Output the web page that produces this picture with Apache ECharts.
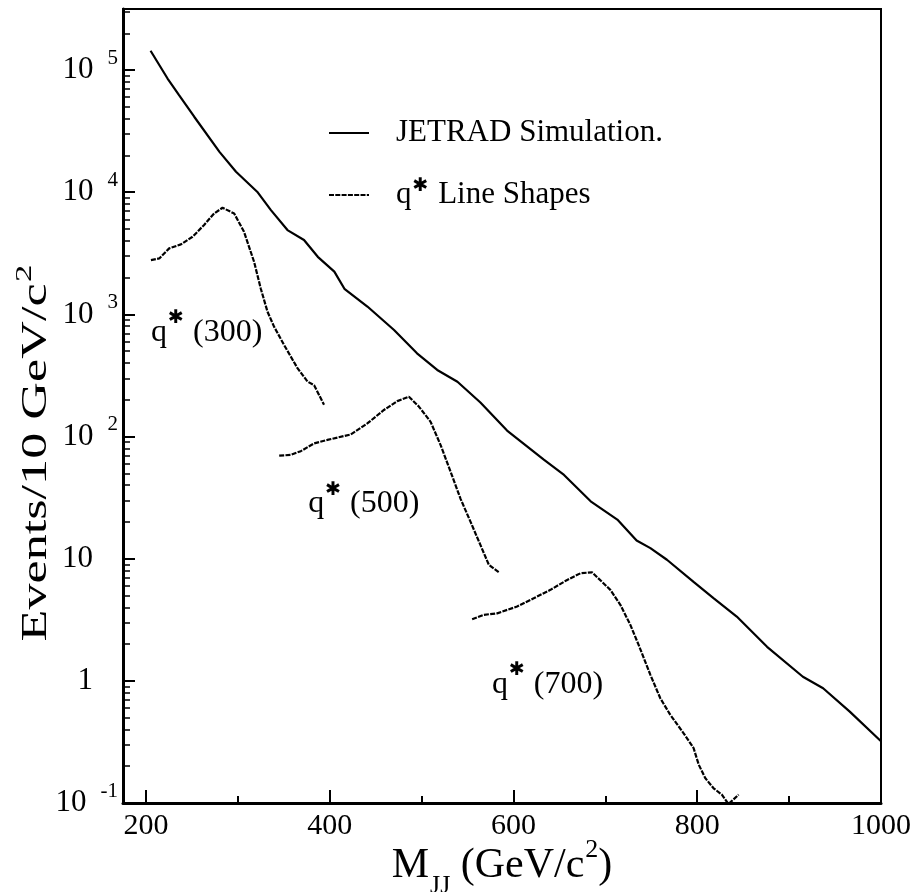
<!DOCTYPE html>
<html>
<head>
<meta charset="utf-8">
<script src="https://cdn.jsdelivr.net/npm/echarts@6/dist/echarts.min.js"></script>
<style>html,body{margin:0;padding:0;background:#fff}#c{width:918px;height:892px}</style>
</head>
<body>
<div id="c"></div>
<script>
// ---------- data ----------
const jetradX = [205, 223.5, 236, 252.5, 280, 298, 321, 336, 354, 372, 387, 405, 416, 441, 470, 495, 517, 539, 564, 593, 633, 655, 684, 713, 734, 749, 767, 796, 818, 843, 876, 915, 937, 966, 1000];
const jetradY = [144000, 85300, 62400, 41500, 21400, 14700, 10100, 7140, 4900, 4060, 2960, 2240, 1620, 1160, 745, 480, 351, 281, 190, 112, 64.6, 48.5, 29.5, 20.9, 14.1, 12.2, 9.8, 6.46, 4.74, 3.36, 1.9, 1.08, 0.87, 0.56, 0.32];

const q300X = [205.4, 214.5, 225.3, 238, 250.7, 263.3, 274.2, 283.3, 296, 306.7, 317.7, 325, 332.3, 339.4, 350.3, 364.9, 375.8, 383, 393.8];
const q300Y = [2780, 2870, 3470, 3740, 4320, 5400, 6700, 7460, 6700, 4750, 2690, 1620, 1050, 794, 562, 363, 282, 263, 182];

const q500X = [345, 357.6, 368.5, 383, 397.5, 422.8, 440.9, 459, 473.6, 486.2, 497, 509.8, 520.7, 531.5, 542.4, 553.3, 564.1, 573.2, 584];
const q500Y = [69.7, 70.8, 75.9, 87.9, 93.8, 104, 128, 165, 195, 212, 176, 132, 85.1, 51.6, 30.9, 20, 12.9, 8.9, 7.74];

const q700X = [555, 567.7, 582.2, 603.9, 622, 640.2, 658.4, 672.8, 685.5, 705.4, 716.3, 727.2, 736.2, 749, 759.8, 770.7, 785.2, 796, 801.6, 808.7, 817.8, 826.8, 834, 845];
const q700Y = [3.19, 3.47, 3.57, 4.06, 4.74, 5.56, 6.70, 7.59, 7.74, 5.56, 4.19, 2.87, 1.97, 1.12, 0.72, 0.527, 0.372, 0.282, 0.206, 0.16, 0.132, 0.117, 0.098, 0.117];

const seriesNames = ['JETRAD Simulation.', 'q* Line Shapes'];

const xTickValues = [200, 400, 600, 800, 1000];
const xTickLabels = ['200', '400', '600', '800', '1000'];
const xMinorTickValues = [300, 500, 700, 900];

const yTickValues = [0.1, 1, 10, 100, 1000, 10000, 100000];
const yTickBase = ['10', '1', '10', '10', '10', '10', '10'];
const yTickExp = ['-1', '', '', '2', '3', '4', '5'];
const yDecades = [0.1, 1, 10, 100, 1000, 10000, 100000];
const yMinorSteps = [2, 3, 4, 5, 6, 7, 8, 9];

const annotX = [205, 376, 576];
const annotY = [716, 28, 0.94];
const annotText = ['(300)', '(500)', '(700)'];

const xAxisTitle = 'M{sub|JJ} (GeV/c{sup|2})';
const yAxisTitle = 'Events/10 GeV/c{sup|2}';

// ---------- chart ----------
const FONT = 'Liberation Serif';
const X_MIN = 175, X_MAX = 1000, Y_MIN = 0.1, Y_MAX = 316227.766;
const zip = (xs, ys) => xs.map((x, i) => [x, ys[i]]);
const yMinorTickValues = [];
yDecades.forEach(d => yMinorSteps.forEach(s => { const v = d * s; if (v <= Y_MAX) yMinorTickValues.push(v); }));

const chart = echarts.init(document.getElementById('c'), null, {renderer: 'canvas'});

const lineBase = {type: 'line', showSymbol: false, symbol: 'none', smooth: false, clip: true, xAxisIndex: 0, yAxisIndex: 0, emphasis: {disabled: true}};
const dashStyle = {color: '#000', width: 2.2, type: [5, 1.3]};

const option = {
  animation: false,
  backgroundColor: '#fff',
  grid: {left: 123, right: 37, top: 9, bottom: 89, show: true, borderColor: '#000', borderWidth: 2, backgroundColor: 'transparent', containLabel: false, outerBoundsMode: 'none'},
  legend: {
    data: seriesNames, orient: 'vertical', left: 323, top: 110, itemWidth: 40, itemHeight: 14, itemGap: 26,
    selectedMode: false,
    itemStyle: {opacity: 0},
    formatter: n => n === seriesNames[1] ? 'q{s|✱} Line Shapes' : n,
    textStyle: {fontFamily: FONT, fontSize: 31, color: '#000', lineHeight: 36, padding: [0, 0, 0, 22],
      rich: {s: {fontFamily: 'DejaVu Sans', fontSize: 19, lineHeight: 10, verticalAlign: 'top', color: '#000', padding: [0, 2, 0, 1]}}}
  },
  xAxis: [
    {type: 'value', min: X_MIN, max: X_MAX, position: 'bottom',
      axisLine: {show: true, onZero: false, lineStyle: {color: '#000', width: 3}},
      axisTick: {show: true, inside: true, length: 13, customValues: xTickValues, lineStyle: {color: '#000', width: 2}},
      axisLabel: {show: true, customValues: xTickValues, color: '#000', fontFamily: FONT, fontSize: 30, margin: 8,
        formatter: v => { const i = xTickValues.indexOf(v); return i >= 0 ? xTickLabels[i] : ''; }},
      splitLine: {show: false},
      name: xAxisTitle, nameLocation: 'middle', nameGap: 42, nameMoveOverlap: false,
      nameTextStyle: {fontFamily: FONT, fontSize: 42, color: '#000',
        rich: {
          sub: {fontFamily: FONT, fontSize: 26, lineHeight: 26, color: '#000', padding: [40, 0, 0, 1]},
          sup: {fontFamily: FONT, fontSize: 26, lineHeight: 26, color: '#000', padding: [4, 0, 36, 1]}
        }}
    },
    {type: 'value', min: X_MIN, max: X_MAX, position: 'bottom',
      axisLine: {show: false},
      axisTick: {show: true, inside: true, length: 7, customValues: xMinorTickValues, lineStyle: {color: '#000', width: 2}},
      axisLabel: {show: false}, splitLine: {show: false}}
  ],
  yAxis: [
    {type: 'log', logBase: 10, min: Y_MIN, max: Y_MAX, position: 'left',
      axisLine: {show: true, onZero: false, lineStyle: {color: '#000', width: 3}},
      axisTick: {show: true, inside: true, length: 12, customValues: yTickValues, lineStyle: {color: '#000', width: 2}},
      axisLabel: {show: true, customValues: yTickValues, margin: 5, align: 'right',
        formatter: v => {
          let i = yTickValues.findIndex(t => Math.abs(Math.log10(t) - Math.log10(v)) < 1e-6);
          if (i < 0) return '';
          return yTickExp[i] ? '{b|' + yTickBase[i] + '}{s|' + yTickExp[i] + '}' : '{b|' + yTickBase[i] + '}{p| }';
        },
        rich: {
          b: {fontFamily: FONT, fontSize: 31, lineHeight: 31, color: '#000', padding: [7, 0, 7, 0]},
          s: {fontFamily: FONT, fontSize: 21, lineHeight: 21, color: '#000', padding: [0, 0, 24, 14]},
          p: {fontFamily: FONT, fontSize: 21, lineHeight: 21, width: 25}
        }},
      splitLine: {show: false}, minorTick: {show: false}
    },
    {type: 'log', logBase: 10, min: Y_MIN, max: Y_MAX, position: 'left',
      axisLine: {show: false},
      axisTick: {show: true, inside: true, length: 7, customValues: yMinorTickValues, lineStyle: {color: '#000', width: 1.5}},
      axisLabel: {show: false}, splitLine: {show: false}}
  ],
  graphic: [
    {type: 'text', x: 37, y: 453, rotation: Math.PI / 2, scaleX: 1.45, scaleY: 1, silent: true,
      style: {text: yAxisTitle, fontFamily: FONT, fontSize: 36, fill: '#000', align: 'center', verticalAlign: 'middle',
        rich: {sup: {fontFamily: FONT, fontSize: 24, lineHeight: 24, fill: '#000', padding: [0, 0, 24, 1]}}}}
  ],
  series: [
    Object.assign({}, lineBase, {name: seriesNames[0], data: zip(jetradX, jetradY), lineStyle: {color: '#000', width: 2.2, type: 'solid'}, itemStyle: {color: '#000'}}),
    Object.assign({}, lineBase, {name: seriesNames[1], data: zip(q300X, q300Y), lineStyle: dashStyle, itemStyle: {color: '#000'}}),
    Object.assign({}, lineBase, {name: seriesNames[1], data: zip(q500X, q500Y), lineStyle: dashStyle, itemStyle: {color: '#000'}}),
    Object.assign({}, lineBase, {name: seriesNames[1], data: zip(q700X, q700Y), lineStyle: dashStyle, itemStyle: {color: '#000'}}),
    {type: 'scatter', name: 'labels', xAxisIndex: 0, yAxisIndex: 0, symbol: 'circle', symbolSize: 1, silent: true,
      data: annotX.map((x, i) => [x, annotY[i], annotText[i]]),
      itemStyle: {color: 'rgba(0,0,0,0)'},
      label: {show: true, position: 'right', distance: 0, color: '#000', opacity: 1,
        formatter: p => '{q|q}{s|✱}{t| ' + p.data[2] + '}',
        rich: {
          q: {fontFamily: FONT, fontSize: 32, lineHeight: 32, color: '#000', padding: [8, 0, 8, 0]},
          s: {fontFamily: 'DejaVu Sans', fontSize: 19, lineHeight: 19, color: '#000', padding: [0, 1, 29, 1]},
          t: {fontFamily: FONT, fontSize: 32, lineHeight: 32, color: '#000', padding: [8, 0, 8, 0]}
        }}
    }
  ]
};
chart.setOption(option);
</script>
</body>
</html>
